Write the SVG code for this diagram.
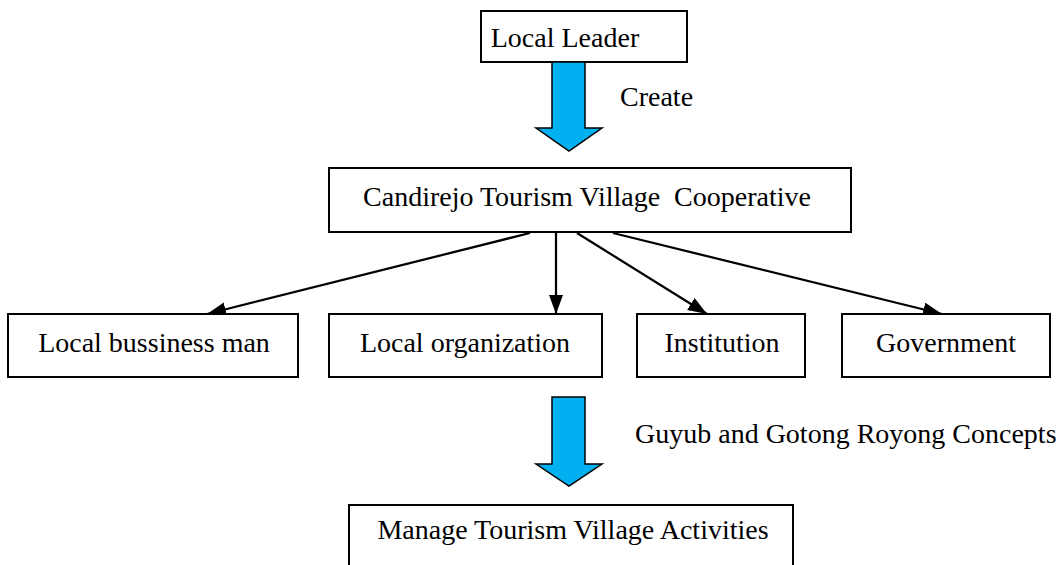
<svg xmlns="http://www.w3.org/2000/svg" width="1063" height="565" viewBox="0 0 1063 565">
<style>
.box{fill:#ffffff;stroke:#000000;stroke-width:2}
.t{font-family:"Liberation Serif","DejaVu Serif",serif;font-size:28px;fill:#000000;text-anchor:middle;white-space:pre}
.l{text-anchor:start}
.conn{stroke:#000000;stroke-width:2.25;fill:none;marker-end:url(#ah)}
.big{fill:#00B0F0;stroke:#000000;stroke-width:1.5;stroke-linejoin:miter}
</style>
<defs>
<marker id="ah" markerUnits="userSpaceOnUse" markerWidth="20" markerHeight="16" refX="19" refY="7" orient="auto">
<path d="M0,0 L19,7 L0,14 z" fill="#000000"/>
</marker>
</defs>
<rect width="1063" height="565" fill="#ffffff"/>
<g id="local-leader">
<rect class="box" x="481" y="11" width="206" height="51"/>
<text class="t" x="565" y="47">Local Leader</text>
</g>
<g id="create-arrow">
<polygon class="big" points="552,62 585,62 585,128 602,128 569,151 536,128 552,128"/>
<text class="t l" x="620" y="106">Create</text>
</g>
<g id="cooperative">
<rect class="box" x="329" y="168" width="522" height="64"/>
<text class="t" x="587" y="206" xml:space="preserve">Candirejo Tourism Village  Cooperative</text>
</g>
<g id="connectors">
<line class="conn" x1="530" y1="233" x2="207" y2="314"/>
<line class="conn" x1="556" y1="233" x2="556" y2="314"/>
<line class="conn" x1="577" y1="233" x2="707" y2="314"/>
<line class="conn" x1="613" y1="233" x2="942" y2="314"/>
</g>
<g id="businessman">
<rect class="box" x="8" y="314" width="290" height="63"/>
<text class="t" x="154" y="352">Local bussiness man</text>
</g>
<g id="local-organization">
<rect class="box" x="329" y="314" width="273" height="63"/>
<text class="t" x="465" y="352">Local organization</text>
</g>
<g id="institution">
<rect class="box" x="637" y="314" width="168" height="63"/>
<text class="t" x="722" y="352">Institution</text>
</g>
<g id="government">
<rect class="box" x="842" y="314" width="208" height="63"/>
<text class="t" x="946" y="352">Government</text>
</g>
<g id="concepts-arrow">
<polygon class="big" points="552,397 585,397 585,464 602,464 569,486 536,464 552,464"/>
<text class="t l" x="635" y="443">Guyub and Gotong Royong Concepts</text>
</g>
<g id="manage">
<rect class="box" x="349" y="505" width="444" height="80"/>
<text class="t" x="573" y="539">Manage Tourism Village Activities</text>
</g>
</svg>
